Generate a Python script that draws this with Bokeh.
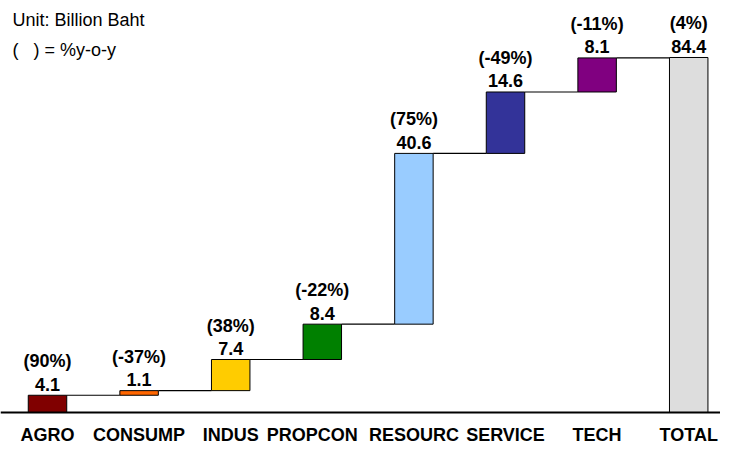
import numpy as np
from bokeh.plotting import figure
from bokeh.models import ColumnDataSource, Range1d, FixedTicker, Label
from bokeh.core.properties import value
from bokeh.embed import file_html
from bokeh.resources import INLINE

categories = ["AGRO", "CONSUMP", "INDUS", "PROPCON", "RESOURC", "SERVICE", "TECH", "TOTAL"]
values = [4.1, 1.1, 7.4, 8.4, 40.6, 14.6, 8.1, 84.4]
yoy_labels = ["(90%)", "(-37%)", "(38%)", "(-22%)", "(75%)", "(-49%)", "(-11%)", "(4%)"]
colors = ["#800000", "#FF6600", "#FFCC00", "#008000", "#99CCFF", "#333399", "#800080", "#DDDDDD"]

vals = np.array(values)
n = len(categories)
xs = np.arange(n)
# waterfall: step bars start at the running total; final bar is the total from zero
cum = np.cumsum(vals[:-1])
bottoms = np.concatenate([[0.0], cum[:-1], [0.0]])
tops = bottoms + vals
bw = 0.42

src = ColumnDataSource(dict(
    x=xs, bottom=bottoms, top=tops, color=colors,
    val=[f"{v:.1f}" for v in values], yoy=yoy_labels,
))

FONT = value("Liberation Sans")

p = figure(width=720, height=448, output_backend="svg", toolbar_location=None,
           x_range=Range1d(-0.5131, 7.347), y_range=Range1d(-8.559, 97.95),
           y_axis_location=None, min_border=0, outline_line_color=None)
p.grid.visible = False

p.vbar(x="x", bottom="bottom", top="top", width=bw, fill_color="color",
       line_color="black", line_width=1, source=src)

# connectors from each bar's top to the next bar
seg_y = tops[:-1]
p.segment(x0=xs[:-1] + bw / 2, y0=seg_y, x1=xs[1:] - bw / 2, y1=seg_y,
          line_color="black", line_width=1.2)

p.text(x="x", y="top", text="val", source=src, text_font=FONT, text_font_style="bold",
       text_font_size="18px", text_align="center", text_baseline="alphabetic",
       y_offset=-11, text_color="black")
p.text(x="x", y="top", text="yoy", source=src, text_font=FONT, text_font_style="bold",
       text_font_size="18px", text_align="center", text_baseline="alphabetic",
       y_offset=-34, text_color="black")

# tick positions: PROPCON's label sits a little left of its bar in the original
tick_pos = [float(i) for i in range(n)]
tick_pos[3] = 2.89
ax = p.xaxis[0]
ax.fixed_location = 0
ax.ticker = FixedTicker(ticks=tick_pos)
ax.major_label_overrides = {t: c for t, c in zip(tick_pos, categories)}
ax.major_tick_line_color = None
ax.minor_tick_line_color = None
ax.major_tick_out = 0
ax.major_tick_in = 0
ax.major_label_standoff = 13
ax.axis_line_width = 2
ax.axis_line_color = "black"
ax.major_label_text_font = "Liberation Sans"
ax.major_label_text_font_style = "bold"
ax.major_label_text_font_size = "18px"
ax.major_label_text_color = "black"

p.add_layout(Label(x=-0.382, y=93.3, text="Unit: Billion Baht", text_font="Liberation Sans",
                   text_font_size="18px", text_color="black", text_baseline="alphabetic"))
p.add_layout(Label(x=-0.382, y=86.1, text="(\u00a0\u00a0\u00a0) = %y-o-y", text_font="Liberation Sans",
                   text_font_size="18px", text_color="black", text_baseline="alphabetic"))

open("out.html", "w").write(file_html(p, INLINE))
